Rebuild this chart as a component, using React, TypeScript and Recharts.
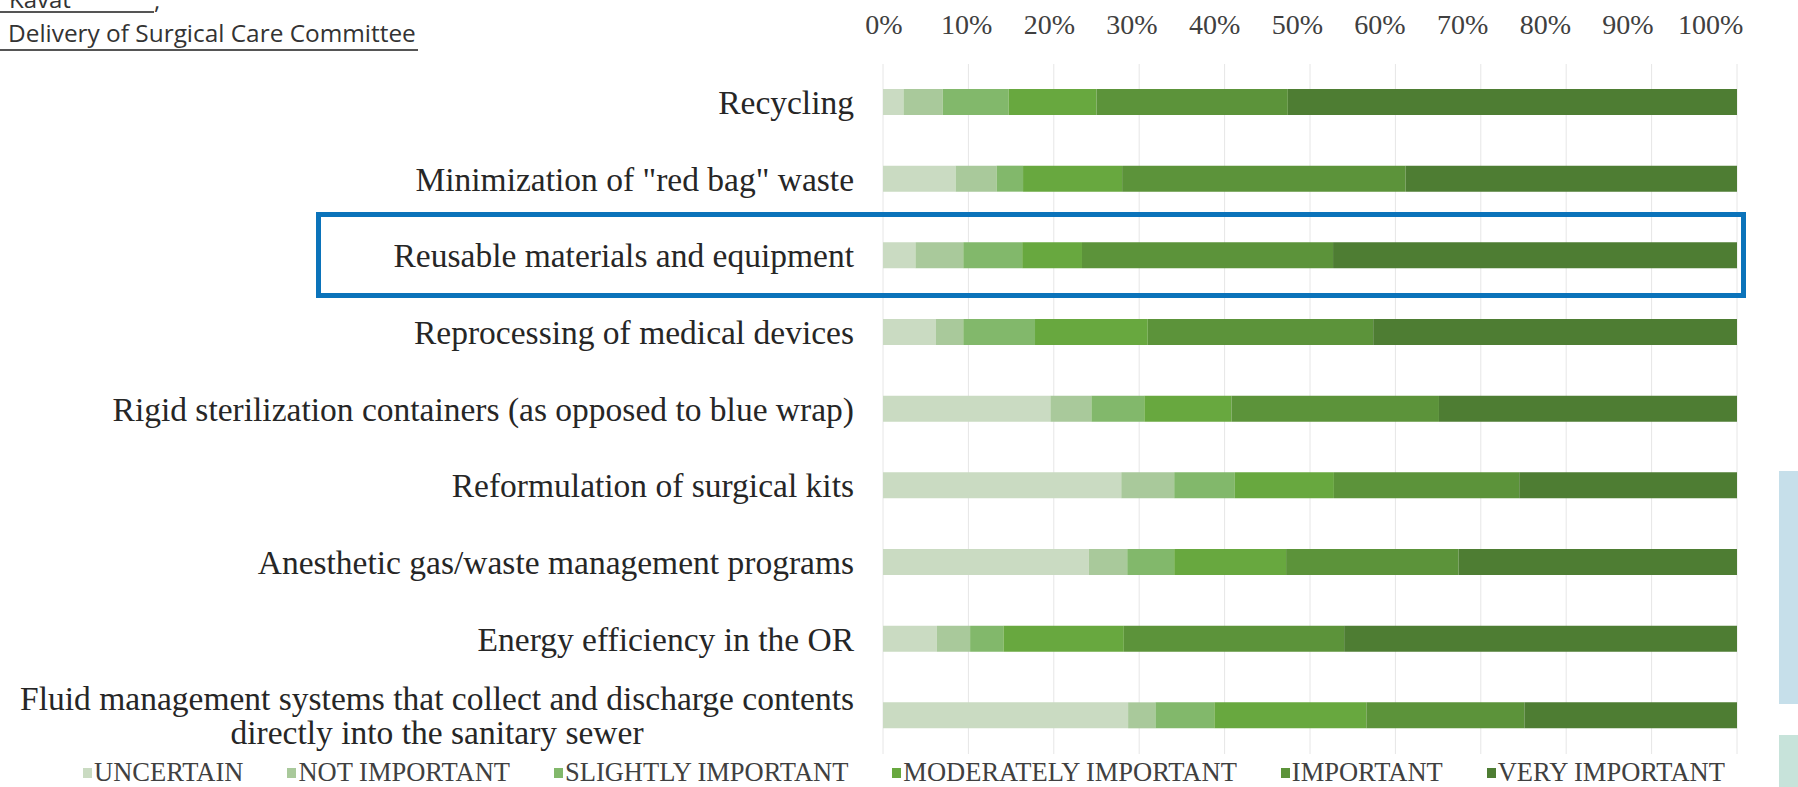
import { Bar, BarChart, CartesianGrid, Legend, XAxis, YAxis } from 'recharts'

const categories = [
  'Recycling',
  'Minimization of "red bag" waste',
  'Reusable materials and equipment',
  'Reprocessing of medical devices',
  'Rigid sterilization containers (as opposed to blue wrap)',
  'Reformulation of surgical kits',
  'Anesthetic gas/waste management programs',
  'Energy efficiency in the OR',
  'Fluid management systems that collect and discharge contents\ndirectly into the sanitary sewer',
]

// share of respondents (%), per category
const uncertain = [2.4, 8.5, 3.8, 6.2, 19.6, 27.9, 24.1, 6.3, 28.7]
const notImportant = [4.6, 4.8, 5.6, 3.2, 4.8, 6.2, 4.5, 3.9, 3.2]
const slightlyImportant = [7.7, 3.1, 6.9, 8.4, 6.2, 7.1, 5.5, 3.9, 6.9]
const moderatelyImportant = [10.3, 11.6, 7.0, 13.2, 10.2, 11.6, 13.1, 14.1, 17.8]
const important = [22.4, 33.2, 29.4, 26.4, 24.3, 21.7, 20.2, 25.8, 18.5]
const veryImportant = [52.6, 38.8, 47.3, 42.6, 34.9, 25.5, 32.6, 46.0, 24.9]

const xTicks = [0, 10, 20, 30, 40, 50, 60, 70, 80, 90, 100]

const series = [
  { key: 'uncertain', name: 'UNCERTAIN', values: uncertain, color: '#cadbc2' },
  { key: 'notImportant', name: 'NOT IMPORTANT', values: notImportant, color: '#a9c99b' },
  { key: 'slightly', name: 'SLIGHTLY IMPORTANT', values: slightlyImportant, color: '#82b86b' },
  { key: 'moderately', name: 'MODERATELY IMPORTANT', values: moderatelyImportant, color: '#68a83f' },
  { key: 'important', name: 'IMPORTANT', values: important, color: '#5c933a' },
  { key: 'very', name: 'VERY IMPORTANT', values: veryImportant, color: '#4e7d33' },
]

const data = categories.map((name, i) => {
  const row: Record<string, string | number> = { name }
  series.forEach((s) => {
    row[s.key] = s.values[i]
  })
  return row
})

const SERIF = '"Liberation Serif", "Times New Roman", serif'
const SANS = '"Open Sans", sans-serif'
const LABEL_SIZE = 33.5
const PLOT_LEFT = 883

function measure(text: string, size: number) {
  const ctx = document.createElement('canvas').getContext('2d')
  if (!ctx) return text.length * size * 0.45
  ctx.font = `${size}px "Liberation Serif"`
  return ctx.measureText(text).width
}

// category labels, right aligned; wrapped labels center the second line under the first
function CategoryTick({ x, y, payload }: any) {
  const lines = String(payload.value).split('\n')
  const lh = 34
  const top = y - ((lines.length - 1) * lh) / 2
  const firstW = measure(lines[0], LABEL_SIZE)
  return (
    <g>
      {lines.map((line, i) => (
        <text
          key={i}
          x={i === 0 ? x : x - firstW / 2}
          y={top + i * lh}
          dy="0.35em"
          textAnchor={i === 0 ? 'end' : 'middle'}
          fontFamily={SERIF}
          fontSize={LABEL_SIZE}
          fill="#262626"
        >
          {line}
        </text>
      ))}
    </g>
  )
}

// the source image has its percent labels set slightly tighter than the gridlines
function PercentTick({ x, y, payload }: any) {
  const tx = PLOT_LEFT + 1 + (x - PLOT_LEFT) * 0.968
  return (
    <text x={tx} y={y} textAnchor="middle" fontFamily={SERIF} fontSize={28} fill="#404040">
      {`${payload.value}%`}
    </text>
  )
}

function LegendRow() {
  return (
    <div
      style={{
        display: 'flex',
        justifyContent: 'center',
        gap: 44,
        fontFamily: SERIF,
        fontSize: 26.5,
        color: '#404040',
        height: 33,
        paddingTop: 4,
        paddingLeft: 10,
        boxSizing: 'border-box',
        lineHeight: '27px',
      }}
    >
      {series.map((s) => (
        <span key={s.key} style={{ display: 'flex', alignItems: 'center' }}>
          <span style={{ width: 9, height: 10, background: s.color, marginRight: 2, display: 'inline-block' }} />
          {s.name}
        </span>
      ))}
    </div>
  )
}

export default function App() {
  return (
    <div
      style={{
        position: 'absolute',
        left: 0,
        top: 0,
        width: 1798,
        height: 787,
        background: '#fff',
        overflow: 'hidden',
      }}
    >
      <BarChart
        width={1798}
        height={787}
        data={data}
        layout="vertical"
        barSize={26}
        margin={{ top: 24, right: 61, bottom: 0, left: 0 }}
      >
        <CartesianGrid horizontal={false} stroke="#e6e6e6" />
        <XAxis
          type="number"
          orientation="top"
          domain={[0, 100]}
          ticks={xTicks}
          height={40}
          axisLine={false}
          tickLine={false}
          tickSize={0}
          tickMargin={30}
          tick={<PercentTick />}
          interval={0}
        />
        <YAxis
          type="category"
          dataKey="name"
          width={PLOT_LEFT}
          axisLine={false}
          tickLine={false}
          tickSize={0}
          tickMargin={29}
          tick={<CategoryTick />}
          interval={0}
        />
        <Legend
          verticalAlign="bottom"
          wrapperStyle={{ left: 0, width: 1798 }}
          content={() => <LegendRow />}
        />
        {series.map((s) => (
          <Bar
            key={s.key}
            dataKey={s.key}
            name={s.name}
            stackId="a"
            fill={s.color}
            isAnimationActive={false}
          />
        ))}
      </BarChart>

      {/* page fragments around the figure */}
      <div
        style={{
          position: 'absolute',
          left: 0,
          top: -12,
          width: 154,
          height: 25,
          borderBottom: '2px solid #555',
          fontFamily: SANS,
          fontSize: 24,
          color: '#333',
          paddingLeft: 9,
          boxSizing: 'border-box',
          lineHeight: '22px',
        }}
      >
        Kavat
      </div>
      <div
        style={{
          position: 'absolute',
          left: 154,
          top: -12,
          fontFamily: SANS,
          fontSize: 24,
          lineHeight: '24px',
          color: '#333',
        }}
      >
        ,
      </div>
      <div
        style={{
          position: 'absolute',
          left: 0,
          top: 18,
          width: 418,
          height: 33,
          borderBottom: '2px solid #555',
          fontFamily: SANS,
          fontSize: 24.4,
          color: '#333',
          paddingLeft: 8,
          boxSizing: 'border-box',
          lineHeight: '30px',
          whiteSpace: 'nowrap',
        }}
      >
        Delivery of Surgical Care Committee
      </div>
      <div
        style={{
          position: 'absolute',
          left: 316,
          top: 212,
          width: 1430,
          height: 86,
          border: '5px solid #0b73ba',
          boxSizing: 'border-box',
        }}
      />
      <div style={{ position: 'absolute', left: 1779, top: 471, width: 19, height: 233, background: '#c6dfea' }} />
      <div style={{ position: 'absolute', left: 1779, top: 735, width: 19, height: 52, background: '#c7e3da' }} />
    </div>
  )
}
